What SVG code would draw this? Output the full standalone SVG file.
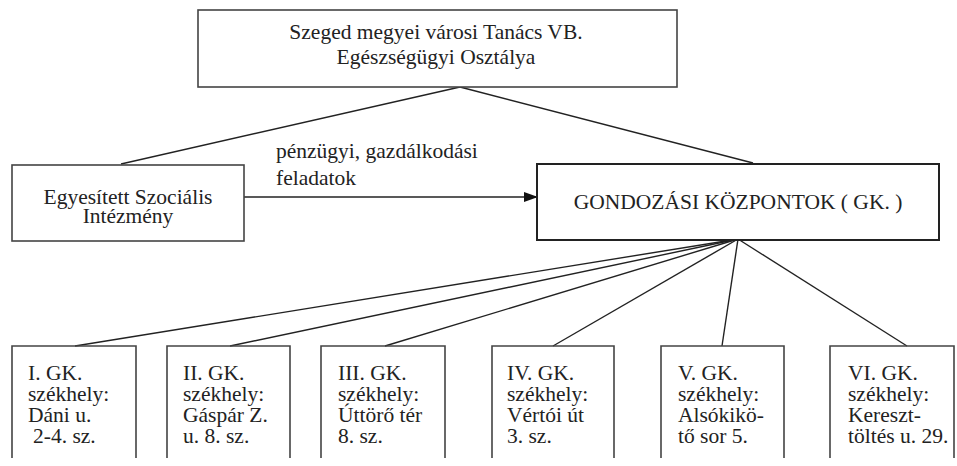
<svg xmlns="http://www.w3.org/2000/svg" width="957" height="466" viewBox="0 0 957 466">
<style>
  text { font-family: "Liberation Serif", "Times New Roman", serif; font-size: 21.5px; fill: #222; }
  .box { fill: #fff; stroke: #444; stroke-width: 1.6; }
  .gk { fill: #fff; stroke: #222; stroke-width: 2; }
  .open { fill: none; stroke: #444; stroke-width: 1.6; }
  .c { text-anchor: middle; }
  .conn line { stroke: #222; stroke-width: 1.4; }
</style>
<defs>
  <marker id="arr" markerWidth="14" markerHeight="10" refX="13" refY="5" orient="auto" markerUnits="userSpaceOnUse">
    <path d="M0,0 L14,5 L0,10 Z" fill="#111"/>
  </marker>
</defs>
<rect width="957" height="466" fill="#fff"/>

<g id="connectors" class="conn">
  <line x1="460" y1="87" x2="121" y2="164"/>
  <line x1="460" y1="87" x2="753" y2="163"/>
  <line x1="244" y1="197" x2="537" y2="197" marker-end="url(#arr)"/>
  <line x1="738" y1="239" x2="75" y2="346"/>
  <line x1="738" y1="239" x2="230" y2="346"/>
  <line x1="738" y1="239" x2="385" y2="346"/>
  <line x1="738" y1="239" x2="553" y2="346"/>
  <line x1="738" y1="239" x2="722" y2="346"/>
  <line x1="738" y1="239" x2="907" y2="346"/>
</g>

<g id="top">
  <rect class="box" x="198" y="10" width="479" height="77"/>
  <text class="c" x="436" y="39">Szeged megyei városi Tanács VB.</text>
  <text class="c" x="436" y="64">Egészségügyi Osztálya</text>
</g>

<g id="esz">
  <rect class="box" x="12" y="165" width="232" height="76"/>
  <text class="c" x="128" y="204">Egyesített Szociális</text>
  <text class="c" x="128" y="223">Intézmény</text>
</g>

<g id="label">
  <text x="276" y="158">pénzügyi, gazdálkodási</text>
  <text x="276" y="185">feladatok</text>
</g>

<g id="gk">
  <rect class="gk" x="537" y="164" width="402" height="76"/>
  <text class="c" x="738" y="209">GONDOZÁSI KÖZPONTOK ( GK. )</text>
</g>

<g id="gk1">
  <path class="open" d="M12,458 V346 H136 V458"/>
  <text x="28" y="380">I. GK.</text>
  <text x="28" y="401">székhely:</text>
  <text x="28" y="422">Dáni u.</text>
  <text x="33" y="443">2-4. sz.</text>
</g>
<g id="gk2">
  <path class="open" d="M167,458 V346 H290 V458"/>
  <text x="183" y="380">II. GK.</text>
  <text x="183" y="401">székhely:</text>
  <text x="183" y="422">Gáspár Z.</text>
  <text x="183" y="443">u. 8. sz.</text>
</g>
<g id="gk3">
  <path class="open" d="M321,458 V346 H445 V458"/>
  <text x="338" y="380">III. GK.</text>
  <text x="338" y="401">székhely:</text>
  <text x="338" y="422">Úttörő tér</text>
  <text x="338" y="443">8. sz.</text>
</g>
<g id="gk4">
  <path class="open" d="M492,458 V346 H614 V458"/>
  <text x="507" y="380">IV. GK.</text>
  <text x="507" y="401">székhely:</text>
  <text x="507" y="422">Vértói út</text>
  <text x="507" y="443">3. sz.</text>
</g>
<g id="gk5">
  <path class="open" d="M661,458 V346 H784 V458"/>
  <text x="678" y="380">V. GK.</text>
  <text x="678" y="401">székhely:</text>
  <text x="678" y="422">Alsókikö-</text>
  <text x="678" y="443">tő sor 5.</text>
</g>
<g id="gk6">
  <path class="open" d="M830,458 V346 H954 V458"/>
  <text x="848" y="380">VI. GK.</text>
  <text x="848" y="401">székhely:</text>
  <text x="848" y="422">Kereszt-</text>
  <text x="848" y="443">töltés u. 29.</text>
</g>
</svg>
